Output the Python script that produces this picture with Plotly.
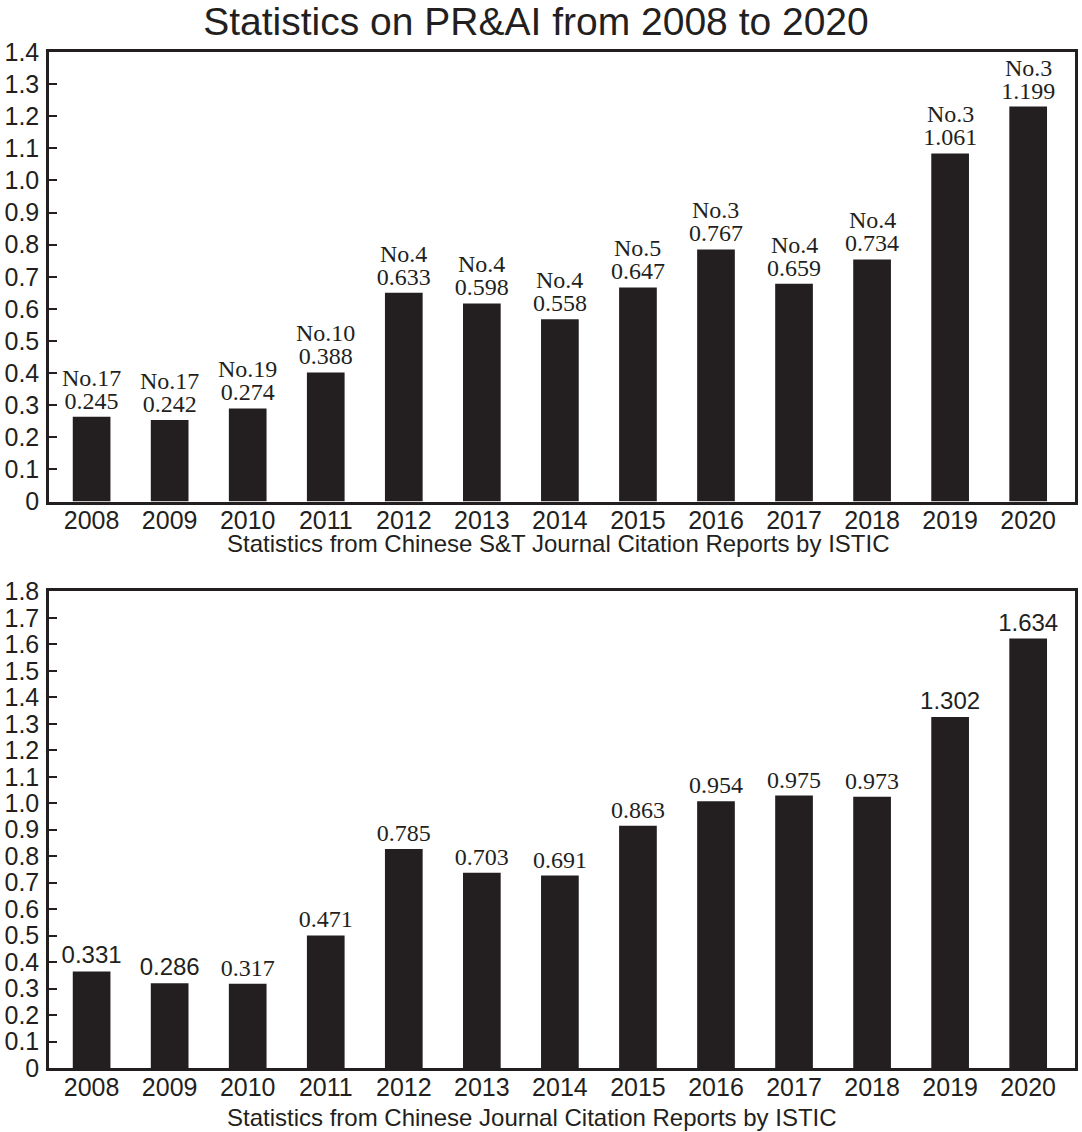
import plotly.graph_objects as go

# ---- data ----
years = ['2008', '2009', '2010', '2011', '2012', '2013', '2014',
         '2015', '2016', '2017', '2018', '2019', '2020']

# top panel: Chinese S&T Journal Citation Reports
ranks_cstjcr = ['No.17', 'No.17', 'No.19', 'No.10', 'No.4', 'No.4', 'No.4',
                'No.5', 'No.3', 'No.4', 'No.4', 'No.3', 'No.3']
labels_cstjcr = ['0.245', '0.242', '0.274', '0.388', '0.633', '0.598', '0.558',
                 '0.647', '0.767', '0.659', '0.734', '1.061', '1.199']
bars_cstjcr = [0.264, 0.254, 0.290, 0.402, 0.650, 0.617, 0.568,
               0.667, 0.785, 0.678, 0.754, 1.084, 1.230]

# bottom panel: Chinese Journal Citation Reports
labels_cjcr = ['0.331', '0.286', '0.317', '0.471', '0.785', '0.703', '0.691',
               '0.863', '0.954', '0.975', '0.973', '1.302', '1.634']
bars_cjcr = [0.365, 0.320, 0.318, 0.501, 0.827, 0.738, 0.727,
             0.915, 1.008, 1.029, 1.025, 1.326, 1.622]

top_ticks = [round(i * 0.1, 1) for i in range(15)]
bottom_ticks = [round(i * 0.1, 1) for i in range(19)]

title_text = 'Statistics on PR&AI from 2008 to 2020'
top_xtitle = 'Statistics from Chinese S&T Journal Citation Reports by ISTIC'
bottom_xtitle = 'Statistics from Chinese Journal Citation Reports by ISTIC'

# ---- styling ----
INK = '#231f20'
SANS = 'Liberation Sans, Arial, sans-serif'
SERIF = 'Liberation Serif, Times New Roman, serif'

bottom_label_fonts = [SANS, SANS, SERIF, SERIF, SERIF, SERIF, SERIF,
                      SERIF, SERIF, SERIF, SERIF, SANS, SANS]

fig = go.Figure()

fig.add_trace(go.Bar(
    x=years, y=bars_cstjcr, xaxis='x', yaxis='y',
    marker=dict(color=INK, line=dict(width=0)),
    text=labels_cstjcr, textposition='outside', cliponaxis=False,
    constraintext='none',
    textfont=dict(family=SERIF, size=24, color=INK),
    showlegend=False, hoverinfo='skip'))

fig.add_trace(go.Bar(
    x=years, y=bars_cjcr, xaxis='x2', yaxis='y2',
    marker=dict(color=INK, line=dict(width=0)),
    text=labels_cjcr, textposition='outside', cliponaxis=False,
    constraintext='none',
    textfont=dict(family=bottom_label_fonts, size=24, color=INK),
    showlegend=False, hoverinfo='skip'))

annotations = []
for i, (val, rk) in enumerate(zip(bars_cstjcr, ranks_cstjcr)):
    annotations.append(dict(
        x=i, y=val, xref='x', yref='y', text=rk, showarrow=False,
        xanchor='center', yanchor='bottom', yshift=24,
        font=dict(family=SERIF, size=24, color=INK)))

annotations.append(dict(
    x=0.4963, y=0.5165, xref='paper', yref='paper', text=top_xtitle,
    showarrow=False, xanchor='center', yanchor='middle',
    font=dict(family=SANS, size=24, color=INK)))
annotations.append(dict(
    x=0.4707, y=-0.0492, xref='paper', yref='paper', text=bottom_xtitle,
    showarrow=False, xanchor='center', yanchor='middle',
    font=dict(family=SANS, size=24, color=INK)))

xaxis_common = dict(
    type='category', range=[-0.546, 12.6], showline=True, linewidth=2.5,
    linecolor=INK, mirror=True, ticks='', showgrid=False, zeroline=False,
    ticklabelstandoff=-5,
    tickfont=dict(family=SANS, size=25, color=INK), fixedrange=True)

yaxis_common = dict(
    showline=True, linewidth=2.5, linecolor=INK, mirror=True,
    ticks='inside', ticklen=8, tickwidth=2, tickcolor=INK,
    showgrid=False, zeroline=False, ticklabelstandoff=2,
    tickfont=dict(family=SANS, size=25, color=INK), fixedrange=True)

fig.update_layout(
    width=1082, height=1132,
    margin=dict(l=45, r=4, t=52, b=64),
    paper_bgcolor='white', plot_bgcolor='white',
    bargap=0.517,
    title=dict(text=title_text, x=536 / 1082, xref='container', xanchor='center',
               y=1 - 21 / 1132, yref='container', yanchor='middle',
               font=dict(family=SANS, size=39, color=INK)),
    xaxis=dict(**xaxis_common, anchor='y'),
    yaxis=dict(**yaxis_common, domain=[0.5575, 1.0], range=[0, 1.4],
               tickvals=top_ticks,
               ticktext=['0' if t == 0 else f'{t:.1f}' for t in top_ticks],
               anchor='x'),
    xaxis2=dict(**xaxis_common, anchor='y2'),
    yaxis2=dict(**yaxis_common, domain=[0.0, 0.469], range=[0, 1.8],
                tickvals=bottom_ticks,
                ticktext=['0' if t == 0 else f'{t:.1f}' for t in bottom_ticks],
                anchor='x2'),
    annotations=annotations,
)

# remove the browser's default 8px body margin so the figure sits at the page corner
fig.write_html('out.html', config={'displayModeBar': False},
               post_script="document.body.style.margin='0';")
